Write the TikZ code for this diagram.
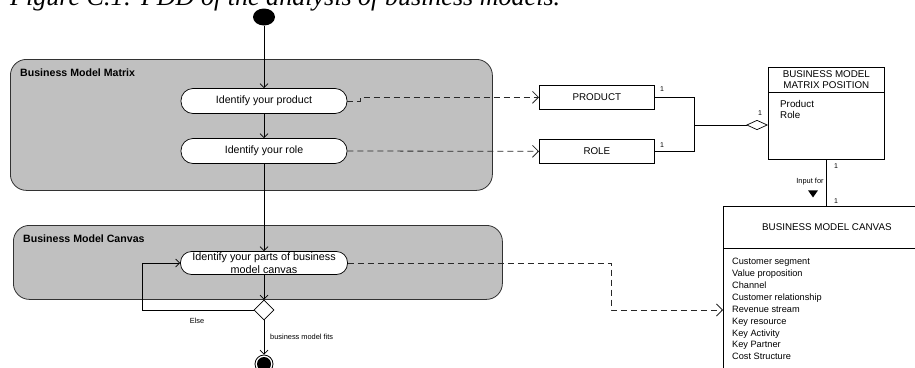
\documentclass[tikz,border=0pt]{standalone}
\usepackage{fontspec}
\usepackage{graphicx}
\setmainfont{Liberation Sans}
\newfontfamily\capfont{Liberation Serif}
\usetikzlibrary{arrows.meta,shapes.geometric,calc}

\definecolor{laneGray}{RGB}{192,192,192}
\definecolor{laneEdge}{RGB}{50,50,50}
\definecolor{depGray}{RGB}{40,40,40}

\begin{document}
\begin{tikzpicture}[x=1pt,y=-1pt,
  lane/.style={draw=laneEdge, fill=laneGray, line width=0.8pt, rounded corners=16pt,
    rectangle, inner sep=0pt, anchor=north west},
  lanetitle/.style={font=\fontsize{10.6}{12}\selectfont\bfseries, inner sep=0pt, anchor=base west},
  act/.style={draw=black, fill=white, line width=0.7pt, rectangle, rounded corners=12pt,
    minimum width=166pt, minimum height=25pt, inner sep=0pt, align=center,
    font=\fontsize{10.6}{13}\selectfont},
  cls/.style={draw=black, fill=white, line width=0.7pt, rectangle, inner sep=0pt,
    anchor=north west, align=center, font=\fontsize{9.8}{11}\selectfont},
  attrs/.style={inner sep=0pt, anchor=north west, align=left},
  flow/.style={draw=black, line width=0.7pt, -{Straight Barb[length=4pt,width=8pt]}},
  dep/.style={draw=depGray, line width=0.8pt, dash pattern=on 6pt off 4pt,
    -{Straight Barb[length=6pt,width=12pt]}},
  assoc/.style={draw=black, line width=0.7pt},
  mult/.style={font=\fontsize{7}{8}\selectfont, inner sep=0pt},
  note/.style={font=\fontsize{7.4}{8}\selectfont, inner sep=0pt}
]
\useasboundingbox (0,0) rectangle (915,367);
\clip (0,0) rectangle (915,367);

% caption
\node[anchor=base west, inner sep=0pt] (cap) at (10,5)
  {\resizebox{550pt}{!}{\capfont\itshape Figure C.1: PDD of the analysis of business models.}};

% swimlanes
\node[lane, minimum width=482pt, minimum height=131pt] (bmm) at (10,59) {};
\node[lanetitle] (bmmT) at (20,76) {Business Model Matrix};
\node[lane, minimum width=489pt, minimum height=74pt] (bmc) at (13,225) {};
\node[lanetitle] (bmcT) at (23,242) {Business Model Canvas};

% activities
\node[ellipse, fill=black, minimum width=22pt, minimum height=17pt, inner sep=0pt] (start) at (264,17) {};
\node[act] (prod) at (264,101) {Identify your product};
\node[act] (role) at (264,151) {Identify your role};
\node[act, minimum width=167pt, minimum height=23pt, rounded corners=11pt,
  font=\fontsize{10.8}{12.5}\selectfont] (parts) at (264,263) {Identify your parts of business\\model canvas};
\node[diamond, draw=black, fill=white, line width=0.7pt, minimum size=20pt, inner sep=0pt, aspect=1] (dec) at (264,310) {};
\node[circle, draw=black, line width=0.8pt, minimum size=18pt, inner sep=0pt,
  path picture={\fill[black] (path picture bounding box.center) circle (7pt);}] (fin) at (264,364) {};

% control flow
\draw[flow] (start) -- (prod);
\draw[flow] (prod) -- (role);
\draw[flow] (role) -- (parts);
\draw[flow] (parts) -- (dec);
\draw[flow] (dec) -- (fin);
\draw[flow] (dec.west) -- ++(-111,0) |- (parts.west);
\node[note] (elseL) at (197,321) {Else};
\node[note, anchor=west] (fitsL) at (270,337) {business model fits};

% concepts
\node[cls, minimum width=115pt, minimum height=24pt] (product) at (539,85) {PRODUCT};
\node[cls, minimum width=115pt, minimum height=24pt] (roleC) at (539,139) {ROLE};

\node[cls, minimum width=116pt, minimum height=25pt] (bmmpH) at (768,67) {BUSINESS MODEL\\MATRIX POSITION};
\node[cls, minimum width=116pt, minimum height=67pt] (bmmpB) at (768,92) {};
\node[attrs, font=\fontsize{9.8}{11.5}\selectfont] (bmmpA) at (780,100) {Product\\Role};

\node[cls, minimum width=207pt, minimum height=42pt] (bmcH) at (723,206) {BUSINESS MODEL CANVAS};
\node[cls, minimum width=207pt, minimum height=140pt] (bmcB) at (723,248) {};
\node[attrs, font=\fontsize{9.2}{11.9}\selectfont] (bmcA) at (732,258)
  {Customer segment\\Value proposition\\Channel\\Customer relationship\\Revenue stream\\
   Key resource\\Key Activity\\Key Partner\\Cost Structure};

% deliverables
\draw[dep] (prod.east) -- ++(13,0) |- (product.west);
\draw[dep] (role.east) -- (roleC.west);
\coordinate (bmcIn) at (723,310);
\draw[dep] (parts.east) -- ++(263.5,0) |- (bmcIn);

% aggregation
\coordinate (jn) at (694,125);
\draw[assoc] (product.east) -| (jn);
\draw[assoc] (roleC.east) -| (jn);
\draw[assoc, -{Diamond[open, length=22pt, width=10pt, line width=0.7pt]}] (jn) -- (jn -| bmmpB.west);
\node[mult] (m1) at (662,89) {1};
\node[mult] (m2) at (662,145) {1};
\node[mult] (m3) at (760,113) {1};

% association
\draw[assoc] (bmmpB.south) -- (bmmpB.south |- bmcH.north);
\node[mult] (m4) at (836,166) {1};
\node[mult] (m5) at (836,201) {1};
\node[note] (inputL) at (810,182) {Input for};
\node[isosceles triangle, shape border rotate=-90, fill=black, inner sep=0pt,
  minimum width=9pt, minimum height=7pt, isosceles triangle apex angle=70] (dirT) at (813,193) {};
\end{tikzpicture}
\end{document}
